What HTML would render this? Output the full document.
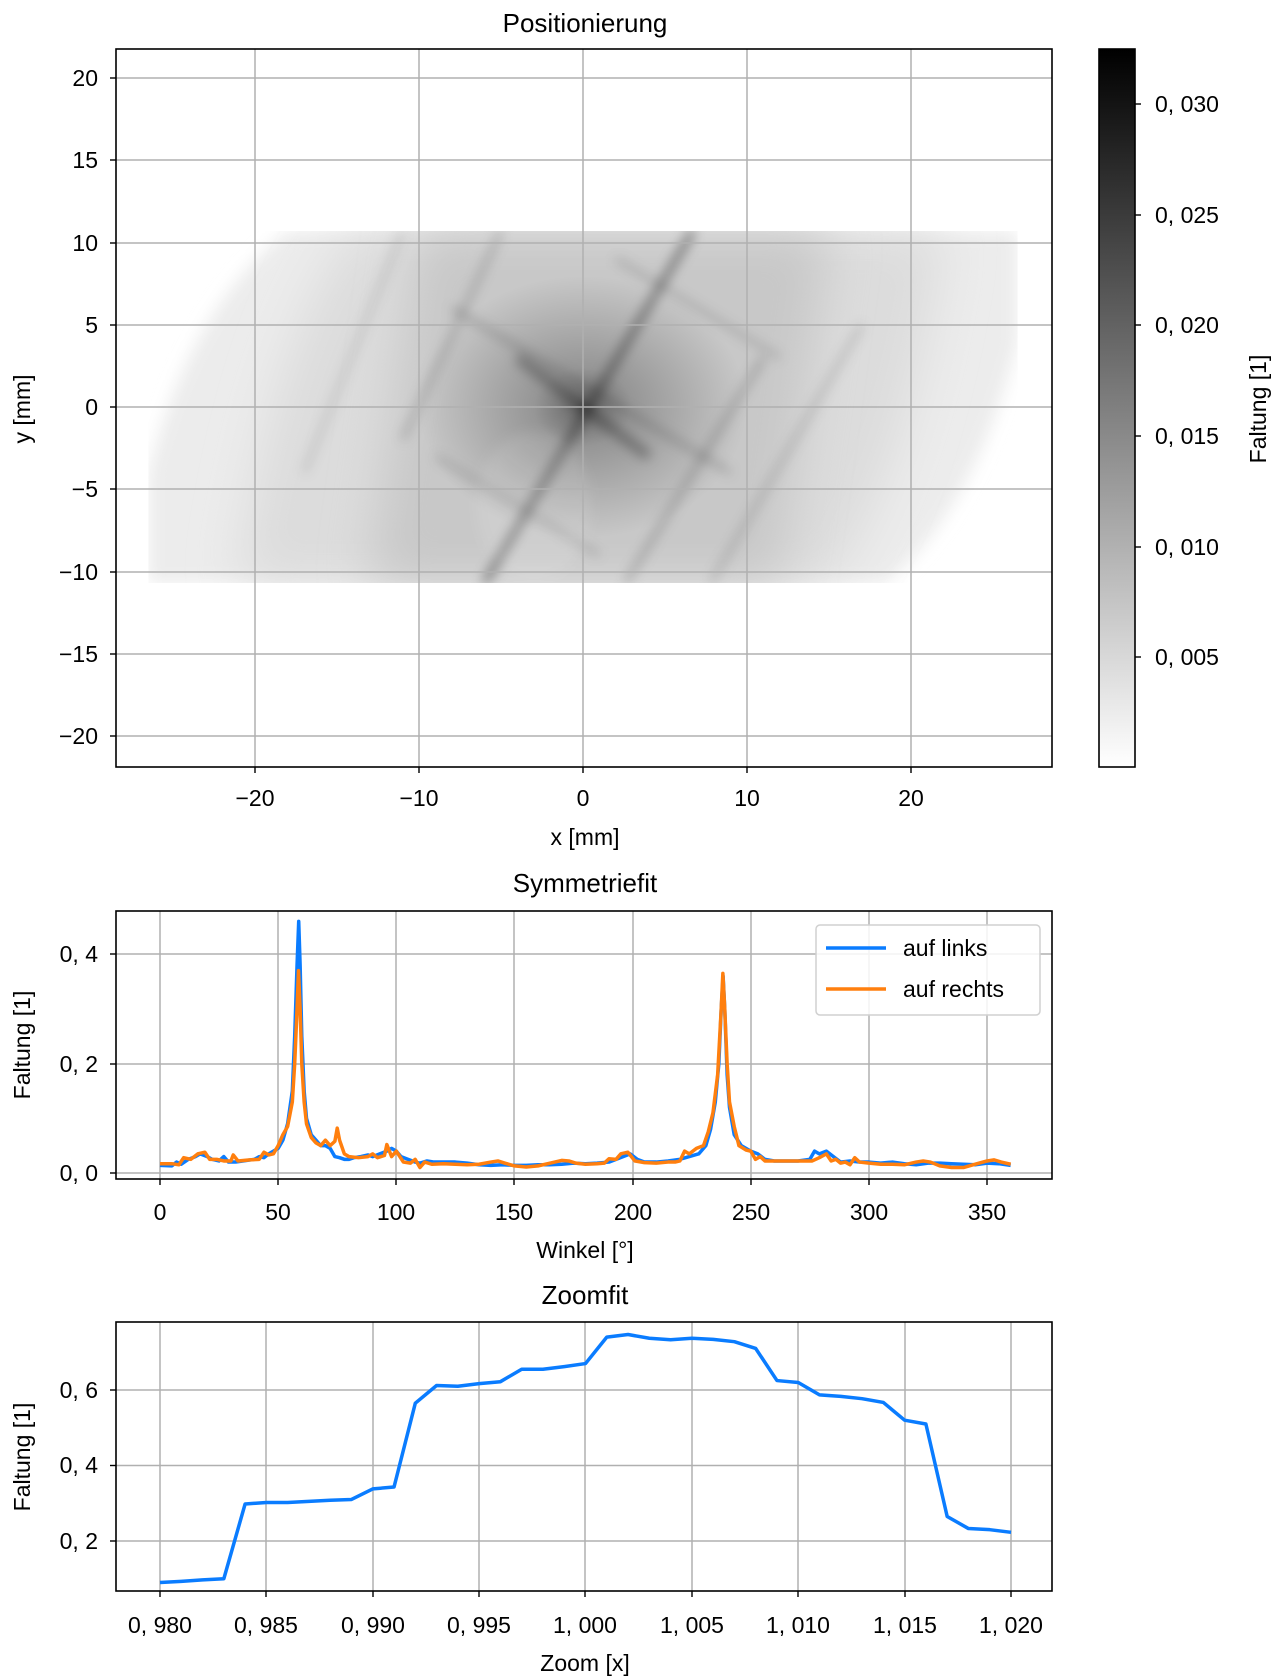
<!DOCTYPE html>
<html><head><meta charset="utf-8"><style>
html,body{margin:0;padding:0;background:#fff;width:1280px;height:1680px;overflow:hidden}
text{font-family:"Liberation Sans",sans-serif;fill:#000}
</style></head><body>
<svg width="1280" height="1680" viewBox="0 0 1280 1680" xmlns="http://www.w3.org/2000/svg">
<defs>
<linearGradient id="cb" x1="0" y1="1" x2="0" y2="0"><stop offset="0" stop-color="#fff"/><stop offset="1" stop-color="#000"/></linearGradient>
<radialGradient id="ctr" cx="0.5" cy="0.5" r="0.5"><stop offset="0" stop-color="#000" stop-opacity="0.5"/><stop offset="0.3" stop-color="#000" stop-opacity="0.25"/><stop offset="1" stop-color="#000" stop-opacity="0"/></radialGradient>
<filter id="bl" x="-20%" y="-20%" width="140%" height="140%"><feGaussianBlur stdDeviation="0.35"/></filter>
<filter id="bl1" x="-20%" y="-20%" width="140%" height="140%"><feGaussianBlur stdDeviation="0.5"/></filter>
<filter id="bl2" x="-20%" y="-20%" width="140%" height="140%"><feGaussianBlur stdDeviation="1.5"/></filter>
<clipPath id="imgclip"><rect x="-26.5" y="-10.7" width="53" height="21.4"/></clipPath>
</defs>

<!-- TOP PLOT -->
<text x="585" y="32" font-size="26" text-anchor="middle">Positionierung</text>
<g transform="translate(583,407) scale(16.4,-16.45)">
 <g clip-path="url(#imgclip)">
  <path d="M-18,10.7 L26.5,10.7 L26.5,4 Q24,-6 18.5,-10.7 L-26.5,-10.7 L-26.5,-4 Q-24,6 -18,10.7 Z" fill="#ececec" filter="url(#bl1)"/>
  <path d="M-14,10.7 L22,10.7 Q20,-4 15,-10.7 L-21,-10.7 Q-19,4 -14,10.7Z" fill="#dcdcdc" filter="url(#bl2)"/>
  <path d="M-10,10.7 L15,10.7 L12,-10.7 L-13,-10.7 Z" fill="#c8c8c8" filter="url(#bl2)"/>
  <ellipse cx="0" cy="0" rx="10" ry="8" fill="url(#ctr)"/>
  <g stroke="#000" fill="none" filter="url(#bl)">
   <line x1="-6" y1="-10.7" x2="6.7" y2="10.7" stroke-width="0.4" stroke-opacity="0.45"/>
   <line x1="2.6" y1="-10.7" x2="11" y2="3" stroke-width="0.3" stroke-opacity="0.25"/>
   <line x1="7.8" y1="-10.7" x2="17" y2="5" stroke-width="0.3" stroke-opacity="0.18"/>
   <line x1="-11" y1="-2" x2="-5" y2="10.7" stroke-width="0.3" stroke-opacity="0.22"/>
   <line x1="-17" y1="-4" x2="-11" y2="10.7" stroke-width="0.3" stroke-opacity="0.14"/>
   <line x1="-8" y1="6" x2="9" y2="-4" stroke-width="0.3" stroke-opacity="0.22"/>
   <line x1="-9" y1="-3" x2="1" y2="-9" stroke-width="0.3" stroke-opacity="0.18"/>
   <line x1="2" y1="9" x2="12" y2="3" stroke-width="0.3" stroke-opacity="0.18"/>
   <line x1="-4" y1="3" x2="4" y2="-3" stroke-width="0.6" stroke-opacity="0.3"/>
  </g>
  <ellipse cx="-3" cy="-6" rx="3.5" ry="4.5" fill="#fff" fill-opacity="0.1" filter="url(#bl)"/>
 </g>
</g>
<g stroke="#b0b0b0" stroke-width="1.5">
 <line x1="255" y1="49" x2="255" y2="767"/><line x1="419" y1="49" x2="419" y2="767"/><line x1="583" y1="49" x2="583" y2="767"/><line x1="747" y1="49" x2="747" y2="767"/><line x1="911" y1="49" x2="911" y2="767"/>
 <line x1="116" y1="78" x2="1052" y2="78"/><line x1="116" y1="160" x2="1052" y2="160"/><line x1="116" y1="243" x2="1052" y2="243"/><line x1="116" y1="325" x2="1052" y2="325"/><line x1="116" y1="407" x2="1052" y2="407"/><line x1="116" y1="489" x2="1052" y2="489"/><line x1="116" y1="572" x2="1052" y2="572"/><line x1="116" y1="654" x2="1052" y2="654"/><line x1="116" y1="736" x2="1052" y2="736"/>
</g>
<rect x="116" y="49" width="936" height="718" fill="none" stroke="#000" stroke-width="1.6"/>
<g stroke="#000" stroke-width="1.4">
 <line x1="255" y1="767" x2="255" y2="773"/><line x1="419" y1="767" x2="419" y2="773"/><line x1="583" y1="767" x2="583" y2="773"/><line x1="747" y1="767" x2="747" y2="773"/><line x1="911" y1="767" x2="911" y2="773"/>
 <line x1="110" y1="78" x2="116" y2="78"/><line x1="110" y1="160" x2="116" y2="160"/><line x1="110" y1="243" x2="116" y2="243"/><line x1="110" y1="325" x2="116" y2="325"/><line x1="110" y1="407" x2="116" y2="407"/><line x1="110" y1="489" x2="116" y2="489"/><line x1="110" y1="572" x2="116" y2="572"/><line x1="110" y1="654" x2="116" y2="654"/><line x1="110" y1="736" x2="116" y2="736"/>
</g>
<g font-size="23" text-anchor="middle">
 <text x="255" y="806">−20</text><text x="419" y="806">−10</text><text x="583" y="806">0</text><text x="747" y="806">10</text><text x="911" y="806">20</text>
 <text x="585" y="845">x [mm]</text>
</g>
<g font-size="23" text-anchor="end">
 <text x="98" y="86">20</text><text x="98" y="168">15</text><text x="98" y="251">10</text><text x="98" y="333">5</text><text x="98" y="415">0</text><text x="98" y="497">−5</text><text x="98" y="580">−10</text><text x="98" y="662">−15</text><text x="98" y="744">−20</text>
</g>
<text transform="translate(30,409) rotate(-90)" font-size="23" text-anchor="middle">y [mm]</text>
<!-- colorbar -->
<rect x="1099" y="49" width="36" height="718" fill="url(#cb)" stroke="#000" stroke-width="1.6"/>
<g stroke="#000" stroke-width="1.4">
 <line x1="1135" y1="104" x2="1141" y2="104"/><line x1="1135" y1="215" x2="1141" y2="215"/><line x1="1135" y1="325" x2="1141" y2="325"/><line x1="1135" y1="436" x2="1141" y2="436"/><line x1="1135" y1="547" x2="1141" y2="547"/><line x1="1135" y1="657" x2="1141" y2="657"/>
</g>
<g font-size="23">
 <text x="1155" y="112">0, 030</text><text x="1155" y="223">0, 025</text><text x="1155" y="333">0, 020</text><text x="1155" y="444">0, 015</text><text x="1155" y="555">0, 010</text><text x="1155" y="665">0, 005</text>
</g>
<text transform="translate(1266,409) rotate(-90)" font-size="23" text-anchor="middle">Faltung [1]</text>

<!-- MIDDLE PLOT -->
<text x="585" y="892" font-size="26" text-anchor="middle">Symmetriefit</text>
<g stroke="#b0b0b0" stroke-width="1.5">
 <line x1="160" y1="911" x2="160" y2="1179"/><line x1="278" y1="911" x2="278" y2="1179"/><line x1="396" y1="911" x2="396" y2="1179"/><line x1="514" y1="911" x2="514" y2="1179"/><line x1="633" y1="911" x2="633" y2="1179"/><line x1="751" y1="911" x2="751" y2="1179"/><line x1="869" y1="911" x2="869" y2="1179"/><line x1="987" y1="911" x2="987" y2="1179"/>
 <line x1="116" y1="1173" x2="1052" y2="1173"/><line x1="116" y1="1064" x2="1052" y2="1064"/><line x1="116" y1="954" x2="1052" y2="954"/>
</g>
<g transform="translate(160,1173) scale(2.363,-547)" fill="none" stroke-linejoin="round">
<polyline vector-effect="non-scaling-stroke" stroke="#0a7cff" stroke-width="3.5" points="0,0.014 5,0.013 7,0.02 9,0.016 12,0.025 15,0.03 17,0.035 20,0.03 22,0.025 25,0.022 27,0.03 29,0.02 32,0.02 35,0.022 40,0.025 42,0.03 44,0.028 46,0.035 48,0.04 50,0.045 52,0.06 54,0.09 56,0.15 57,0.25 58,0.38 58.7,0.46 59.3,0.38 60,0.25 61,0.15 62,0.1 64,0.07 66,0.06 68,0.05 70,0.05 72,0.045 74,0.03 76,0.028 78,0.025 80,0.025 82,0.028 85,0.03 88,0.033 90,0.03 93,0.035 96,0.04 98,0.045 100,0.04 102,0.03 105,0.025 108,0.02 110,0.018 113,0.022 116,0.02 120,0.02 125,0.02 130,0.018 135,0.015 140,0.014 145,0.015 150,0.014 155,0.014 160,0.015 165,0.015 170,0.016 175,0.018 180,0.017 185,0.018 190,0.02 193,0.025 196,0.03 199,0.035 202,0.025 205,0.02 210,0.02 215,0.022 220,0.025 224,0.03 228,0.035 231,0.05 233,0.08 235,0.13 236.5,0.2 237.5,0.3 238.3,0.36 239,0.3 240,0.18 241,0.12 243,0.07 246,0.05 250,0.04 253,0.035 256,0.025 260,0.022 265,0.022 270,0.022 275,0.025 277,0.04 279,0.035 282,0.04 285,0.03 288,0.02 292,0.022 296,0.02 300,0.02 305,0.018 310,0.02 315,0.017 320,0.015 325,0.018 330,0.018 335,0.017 340,0.016 345,0.015 350,0.018 355,0.017 360,0.014"/>
<polyline vector-effect="non-scaling-stroke" stroke="#ff7f0e" stroke-width="3.5" points="0,0.017 5,0.017 8,0.015 10,0.028 13,0.025 16,0.035 19,0.038 21,0.025 24,0.025 27,0.022 30,0.022 31,0.033 33,0.022 38,0.024 42,0.025 44,0.038 46,0.033 48,0.035 50,0.05 52,0.07 54,0.085 56,0.13 57,0.2 58,0.3 58.6,0.37 59.3,0.3 60,0.2 61,0.13 62,0.09 64,0.065 66,0.055 68,0.05 70,0.06 72,0.05 74,0.058 75,0.082 76,0.06 78,0.035 80,0.03 84,0.028 88,0.03 90,0.035 92,0.028 95,0.032 96,0.052 98,0.03 100,0.04 103,0.02 106,0.018 108,0.025 110,0.01 112,0.02 115,0.016 120,0.017 125,0.016 130,0.015 135,0.016 140,0.02 143,0.022 146,0.018 150,0.013 155,0.011 160,0.013 165,0.018 170,0.023 173,0.022 176,0.018 180,0.016 185,0.017 188,0.018 190,0.026 193,0.025 195,0.035 198,0.038 201,0.022 205,0.019 210,0.018 215,0.02 218,0.02 220,0.022 222,0.04 224,0.035 227,0.045 230,0.05 232,0.075 234,0.11 236,0.18 237.5,0.3 238.2,0.365 239,0.3 240,0.2 241,0.13 243,0.085 245,0.05 248,0.042 250,0.04 252,0.025 254,0.03 256,0.022 260,0.022 270,0.022 276,0.022 279,0.028 282,0.035 284,0.022 286,0.025 288,0.018 290,0.02 292,0.015 294,0.028 296,0.02 300,0.018 305,0.016 310,0.016 315,0.015 320,0.02 323,0.022 326,0.02 330,0.013 335,0.01 340,0.01 345,0.016 350,0.022 353,0.024 356,0.02 360,0.016"/>
</g>
<rect x="116" y="911" width="936" height="268" fill="none" stroke="#000" stroke-width="1.6"/>
<g stroke="#000" stroke-width="1.4">
 <line x1="160" y1="1179" x2="160" y2="1185"/><line x1="278" y1="1179" x2="278" y2="1185"/><line x1="396" y1="1179" x2="396" y2="1185"/><line x1="514" y1="1179" x2="514" y2="1185"/><line x1="633" y1="1179" x2="633" y2="1185"/><line x1="751" y1="1179" x2="751" y2="1185"/><line x1="869" y1="1179" x2="869" y2="1185"/><line x1="987" y1="1179" x2="987" y2="1185"/>
 <line x1="110" y1="1173" x2="116" y2="1173"/><line x1="110" y1="1064" x2="116" y2="1064"/><line x1="110" y1="954" x2="116" y2="954"/>
</g>
<g font-size="23" text-anchor="middle">
 <text x="160" y="1220">0</text><text x="278" y="1220">50</text><text x="396" y="1220">100</text><text x="514" y="1220">150</text><text x="633" y="1220">200</text><text x="751" y="1220">250</text><text x="869" y="1220">300</text><text x="987" y="1220">350</text>
 <text x="585" y="1258">Winkel [°]</text>
</g>
<g font-size="23" text-anchor="end">
 <text x="98" y="1181">0, 0</text><text x="98" y="1072">0, 2</text><text x="98" y="962">0, 4</text>
</g>
<text transform="translate(30,1045) rotate(-90)" font-size="23" text-anchor="middle">Faltung [1]</text>
<!-- legend -->
<rect x="816" y="925" width="224" height="90" rx="4" fill="#fff" fill-opacity="0.85" stroke="#d0d0d0" stroke-width="1.5"/>
<line x1="826" y1="948" x2="886" y2="948" stroke="#0a7cff" stroke-width="3.5"/>
<line x1="826" y1="989" x2="886" y2="989" stroke="#ff7f0e" stroke-width="3.5"/>
<text x="903" y="956" font-size="23">auf links</text>
<text x="903" y="997" font-size="23">auf rechts</text>

<!-- BOTTOM PLOT -->
<text x="585" y="1304" font-size="26" text-anchor="middle">Zoomfit</text>
<g stroke="#b0b0b0" stroke-width="1.5">
 <line x1="160" y1="1322" x2="160" y2="1591"/><line x1="266" y1="1322" x2="266" y2="1591"/><line x1="373" y1="1322" x2="373" y2="1591"/><line x1="479" y1="1322" x2="479" y2="1591"/><line x1="585" y1="1322" x2="585" y2="1591"/><line x1="692" y1="1322" x2="692" y2="1591"/><line x1="798" y1="1322" x2="798" y2="1591"/><line x1="905" y1="1322" x2="905" y2="1591"/><line x1="1011" y1="1322" x2="1011" y2="1591"/>
 <line x1="116" y1="1541" x2="1052" y2="1541"/><line x1="116" y1="1465.5" x2="1052" y2="1465.5"/><line x1="116" y1="1390" x2="1052" y2="1390"/>
</g>
<g transform="translate(160,1616.5) scale(21.275,-377.5)" fill="none" stroke-linejoin="round">
<polyline vector-effect="non-scaling-stroke" stroke="#0a7cff" stroke-width="3.5" points="0,0.09 1,0.093 2,0.097 3,0.1 4,0.298 5,0.302 6,0.302 7,0.305 8,0.308 9,0.31 10,0.338 11,0.343 12,0.565 13,0.612 14,0.61 15,0.617 16,0.622 17,0.655 18,0.655 19,0.662 20,0.67 21,0.74 22,0.747 23,0.737 24,0.733 25,0.737 26,0.734 27,0.728 28,0.71 29,0.625 30,0.62 31,0.587 32,0.583 33,0.577 34,0.567 35,0.52 36,0.51 37,0.265 38,0.233 39,0.23 40,0.223"/>
</g>
<rect x="116" y="1322" width="936" height="269" fill="none" stroke="#000" stroke-width="1.6"/>
<g stroke="#000" stroke-width="1.4">
 <line x1="160" y1="1591" x2="160" y2="1597"/><line x1="266" y1="1591" x2="266" y2="1597"/><line x1="373" y1="1591" x2="373" y2="1597"/><line x1="479" y1="1591" x2="479" y2="1597"/><line x1="585" y1="1591" x2="585" y2="1597"/><line x1="692" y1="1591" x2="692" y2="1597"/><line x1="798" y1="1591" x2="798" y2="1597"/><line x1="905" y1="1591" x2="905" y2="1597"/><line x1="1011" y1="1591" x2="1011" y2="1597"/>
 <line x1="110" y1="1541" x2="116" y2="1541"/><line x1="110" y1="1465.5" x2="116" y2="1465.5"/><line x1="110" y1="1390" x2="116" y2="1390"/>
</g>
<g font-size="23" text-anchor="middle">
 <text x="160" y="1633">0, 980</text><text x="266" y="1633">0, 985</text><text x="373" y="1633">0, 990</text><text x="479" y="1633">0, 995</text><text x="585" y="1633">1, 000</text><text x="692" y="1633">1, 005</text><text x="798" y="1633">1, 010</text><text x="905" y="1633">1, 015</text><text x="1011" y="1633">1, 020</text>
 <text x="585" y="1671">Zoom [x]</text>
</g>
<g font-size="23" text-anchor="end">
 <text x="98" y="1549">0, 2</text><text x="98" y="1473">0, 4</text><text x="98" y="1398">0, 6</text>
</g>
<text transform="translate(30,1457) rotate(-90)" font-size="23" text-anchor="middle">Faltung [1]</text>
</svg>
</body></html>
